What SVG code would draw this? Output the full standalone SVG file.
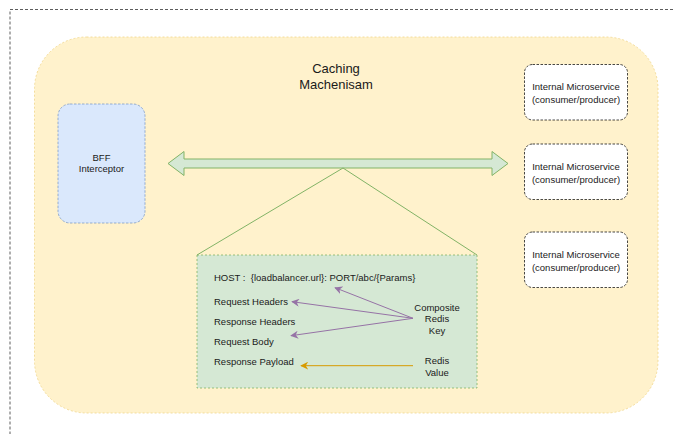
<svg xmlns="http://www.w3.org/2000/svg" width="673" height="434" viewBox="0 0 673 434">
<defs>
<style>
text{font-family:"Liberation Sans",Arial,Helvetica,sans-serif;fill:#1a1a1a;font-size:9.5px}
.c{text-anchor:middle}
.svc{fill:#ffffff;stroke:#1a1a1a;stroke-width:0.8;stroke-dasharray:2.5 1.5}
</style>
<marker id="ap" viewBox="0 0 10 10" refX="9" refY="5" markerWidth="8" markerHeight="8" orient="auto" markerUnits="userSpaceOnUse">
<path d="M0,0 L10,5 L0,10 L3,5 Z" fill="#9673a6"/>
</marker>
<marker id="ao" viewBox="0 0 10 10" refX="9" refY="5" markerWidth="8" markerHeight="8" orient="auto" markerUnits="userSpaceOnUse">
<path d="M0,0 L10,5 L0,10 L3,5 Z" fill="#d79b00"/>
</marker>
</defs>
<rect x="0" y="0" width="673" height="434" fill="#ffffff"/>
<g id="frame">
<rect x="10" y="9.5" width="700" height="500" fill="none" stroke="#333333" stroke-width="0.8" stroke-dasharray="3 2"/>
</g>
<g id="caching">
<rect x="34.5" y="37" width="623.5" height="376" rx="52" ry="52" fill="#fff2cc" stroke="#f0d68a" stroke-width="0.8" stroke-dasharray="2 2"/>
<text class="c" x="336" y="73" style="font-size:13px">Caching</text>
<text class="c" x="336" y="89" style="font-size:13px">Machenisam</text>
</g>
<g id="bff">
<rect x="58" y="104" width="87" height="119" rx="12" ry="12" fill="#dae8fc" stroke="#7f9cc8" stroke-width="0.8" stroke-dasharray="2.5 1.5"/>
<text class="c" x="101.5" y="161">BFF</text>
<text class="c" x="101.5" y="172">Interceptor</text>
</g>
<g id="svc1">
<rect class="svc" x="524.5" y="64.5" width="103" height="55.5" rx="8" ry="8"/>
<text class="c" x="576" y="90">Internal Microservice</text>
<text class="c" x="576" y="103">(consumer/producer)</text>
</g>
<g id="svc2">
<rect class="svc" x="524.5" y="144" width="103" height="55.5" rx="8" ry="8"/>
<text class="c" x="576" y="169.5">Internal Microservice</text>
<text class="c" x="576" y="182.5">(consumer/producer)</text>
</g>
<g id="svc3">
<rect class="svc" x="524.5" y="232" width="103" height="55.5" rx="8" ry="8"/>
<text class="c" x="576" y="257.5">Internal Microservice</text>
<text class="c" x="576" y="270.5">(consumer/producer)</text>
</g>
<g id="key">
<rect x="197" y="255" width="280" height="133" fill="#d5e8d4" stroke="#82b366" stroke-width="0.8" stroke-dasharray="2 2"/>
<text x="214" y="281" style="white-space:pre" xml:space="preserve">HOST :  {loadbalancer.url}: PORT/abc/{Params}</text>
<text x="214" y="304.5">Request Headers</text>
<text x="214" y="325">Response Headers</text>
<text x="214" y="345">Request Body</text>
<text x="214" y="365">Response Payload</text>
<text class="c" x="437" y="310.5">Composite</text>
<text class="c" x="437" y="322">Redis</text>
<text class="c" x="437" y="333.5">Key</text>
<text class="c" x="437" y="363.5">Redis</text>
<text class="c" x="437" y="375.5">Value</text>
</g>
<g id="connectors">
<path d="M168,163.5 L184,151.5 L184,159 L492,159 L492,151.5 L508,163.5 L492,175.5 L492,168 L184,168 L184,175.5 Z" fill="#d5e8d4" stroke="#82b366" stroke-width="1"/>
<polyline points="197,255 343,168 477,255" fill="none" stroke="#82b366" stroke-width="1"/>
<line x1="413" y1="318.3" x2="335" y2="287.7" stroke="#9673a6" stroke-width="1" marker-end="url(#ap)"/>
<line x1="413" y1="318.3" x2="292" y2="301.7" stroke="#9673a6" stroke-width="1" marker-end="url(#ap)"/>
<line x1="413" y1="318.3" x2="291" y2="335.7" stroke="#9673a6" stroke-width="1" marker-end="url(#ap)"/>
<line x1="413" y1="365.7" x2="301" y2="365.7" stroke="#d79b00" stroke-width="1" marker-end="url(#ao)"/>
</g>
</svg>
